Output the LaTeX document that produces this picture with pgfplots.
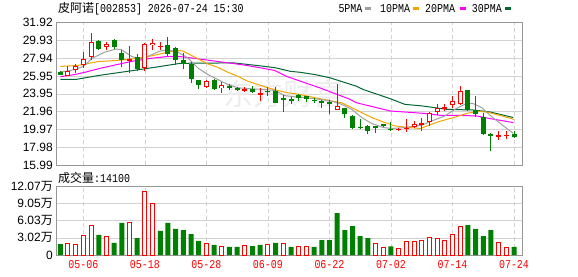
\documentclass[border=0pt]{standalone}
\usepackage{pgfplots}
\pgfplotsset{compat=1.18}
\usepackage{pgfplotstable}
\usepackage{fontspec}
\setmainfont{Liberation Sans}
\newfontfamily\cjk{Noto Sans CJK SC}
\newfontfamily\mono[FakeStretch=0.83]{Liberation Mono}

\definecolor{upred}{RGB}{255,0,0}
\definecolor{dngreen}{RGB}{0,128,0}
\definecolor{maA}{RGB}{160,160,160}
\definecolor{maB}{RGB}{245,165,0}
\definecolor{maC}{RGB}{255,0,255}
\definecolor{maD}{RGB}{0,102,51}
\definecolor{gridc}{RGB}{210,210,210}
\definecolor{framec}{RGB}{150,150,150}

% x O H L C
\pgfplotstableread{
x O H L C
1 25.98 27.0 25.95 26.54
2 26.6 27.3 26.3 27.1
3 27.2 28.65 26.85 27.8
4 28.1 30.75 27.75 29.7
6 29.2 29.78 28.86 29.5
9 27.65 29.3 26.3 27.85
11 26.85 29.6 26.55 29.5
12 29.35 30.1 28.8 29.6
13 29.2 29.7 28.78 29.25
19 24.7 25.5 24.6 25.35
21 24.55 25.3 24.0 24.9
24 24.4 24.7 24.15 24.45
26 23.95 24.6 23.15 24.0
36 22.2 25.0 22.15 22.65
44 20.0 20.15 19.85 20.05
45 20.05 21.1 19.7 20.15
46 20.3 20.95 20.1 20.55
47 20.6 21.3 19.85 20.65
48 20.85 21.95 20.4 21.85
49 21.9 22.8 21.6 22.4
50 22.35 22.85 22.05 22.4
51 22.7 23.7 22.4 23.2
52 22.8 24.8 22.75 24.3
57 19.25 19.85 18.8 19.3
58 19.3 19.8 18.9 19.35
}\redc

\pgfplotstableread{
x O H L C
0 26.43 26.5 26.0 26.1
5 29.85 29.9 28.85 28.9
7 30.0 30.05 28.95 29.2
8 28.55 28.8 26.9 27.7
10 28.0 28.4 26.55 26.75
14 29.35 30.3 28.2 28.4
15 29.1 29.2 27.2 27.75
16 27.75 28.55 26.7 27.3
17 27.3 27.45 25.2 25.55
18 25.45 25.5 24.5 24.9
20 25.5 25.55 24.4 24.45
22 24.85 25.0 24.35 24.65
23 24.65 24.7 24.25 24.35
25 24.5 24.8 24.0 24.1
27 24.3 24.7 23.7 24.15
28 24.3 24.75 22.9 22.95
29 23.45 23.8 21.95 23.25
30 23.4 23.6 22.85 23.1
31 23.85 23.9 23.15 23.5
32 23.7 23.75 23.0 23.35
33 23.3 23.5 22.95 23.2
34 23.2 23.25 22.4 22.95
35 23.0 23.3 21.7 22.95
37 22.35 22.4 21.3 21.65
38 21.45 21.6 20.05 20.15
39 20.25 21.2 20.0 20.2
40 20.35 20.5 19.45 19.85
41 20.3 20.4 19.6 20.25
42 20.55 20.6 20.3 20.35
43 20.05 20.85 19.85 20.0
53 24.35 24.4 22.05 22.1
54 22.1 23.7 21.4 21.75
55 21.4 21.85 19.4 19.5
56 19.5 19.55 17.55 19.25
59 19.45 19.8 19.05 19.1
}\greenc

\pgfplotstableread{
x v
0 1.92
5 3.5
7 2.1
8 5.6
10 2.97
13 4.2
14 5.6
15 4.55
16 4.37
17 3.67
18 2.45
20 1.75
22 1.4
23 1.4
25 1.57
26 1.75
28 2.1
30 1.4
33 1.4
34 2.62
35 2.62
36 7.34
37 4.37
38 5.07
39 3.32
40 2.97
43 1.52
53 5.24
54 4.55
55 3.32
56 4.37
59 1.4
}\volg

\pgfplotstableread{
x v
1 2.04
2 1.86
3 3.44
4 5.19
6 3.27
9 5.6
11 11.13
12 9.03
19 2.04
21 1.52
24 1.69
27 1.86
29 2.04
31 1.57
32 1.4
41 2.04
42 1.34
44 1.17
45 2.39
46 2.39
47 2.56
48 3.09
49 2.91
50 2.56
51 3.61
52 5.01
57 2.27
58 1.34
}\volr

\pgfplotsset{
  kstyle/.style={
    scale only axis, width=466pt,
    xmin=-0.56, xmax=60.04,
    axis line style={draw=framec},
    major tick length=0pt,
    xtick={3,11,19,27,35,43,51,59},
    xmajorgrids, ymajorgrids,
    x grid style={draw=gridc, dash pattern=on 4pt off 3pt},
    y grid style={draw=gridc},
    yticklabel style={font=\fontsize{12}{12}\selectfont, anchor=east, inner sep=0pt, xshift=-3pt},
  },
  wick/.style={draw=none,
    error bars/y dir=both, error bars/y explicit, error bars/error mark=none,
    error bars/error bar style={draw=#1, line width=1pt, line cap=butt}},
  body/.style 2 args={draw=none,
    error bars/y dir=both, error bars/y explicit, error bars/error mark=none,
    error bars/error bar style={draw=#1, line width=#2, line cap=butt}},
}

\begin{document}
\begin{tikzpicture}
\useasboundingbox (0pt,0pt) rectangle (578pt,276pt);

% ---------------- price panel ----------------
\begin{axis}[kstyle, at={(56pt,110.7pt)}, anchor=south west, height=143pt,
  ymin=15.99, ymax=31.92,
  ytick={15.99,17.98125,19.9725,21.96375,23.955,25.94625,27.9375,29.92875,31.92},
  yticklabels={15.99,17.98,19.97,21.96,23.95,25.95,27.94,29.93,31.92},
  xticklabels={},
]
% watermark
\node[text=black!7, font=\cjk\fontsize{30}{30}\selectfont] at (axis cs:29,23.9) {东方财富};

% moving averages
\addplot[maD, line width=1pt] coordinates {(0,25.55)(2,25.55)(5,26.0)(9.5,26.55)(13,27.0)(15.6,27.35)(22.5,27.4)(25.7,27.1)(28,26.85)(29.9,26.46)(31.2,26.35)(33.1,26.1)(35.1,25.73)(38.5,24.8)(39.4,24.43)(42.9,23.41)(44.8,22.78)(47.2,22.59)(50.3,22.22)(53.7,22.15)(55.9,21.93)(58.9,21.31)};
\addplot[maC, line width=1pt] coordinates {(0,25.85)(1.9,26.1)(3.4,26.4)(5.2,26.8)(7.3,27.2)(9.5,27.6)(11.7,27.9)(13.8,28.1)(15.6,28.1)(17.5,27.9)(19.2,27.7)(23.6,27.2)(25.7,26.9)(27.9,26.55)(29.4,25.9)(33.8,24.6)(37.7,23.33)(38.5,22.96)(42.9,22.04)(47.2,21.78)(49.4,21.56)(51.6,21.56)(54.2,21.48)(55.9,21.19)(58.9,20.75)};
\addplot[maB, line width=1pt] coordinates {(0,27.0)(2,27.1)(3,27.2)(4,27.4)(5,27.55)(7,27.65)(9,27.8)(10,27.9)(11,28.05)(12,28.2)(13,28.4)(14.5,28.67)(15.5,28.78)(16,28.7)(17.3,28.12)(19.2,27.28)(20.5,26.9)(21.8,26.35)(23.1,25.9)(24.4,25.35)(25.7,24.99)(27,24.62)(28.3,24.32)(29.6,24.07)(31.2,23.88)(33.1,23.52)(35.3,23.14)(36.6,22.96)(37.9,22.41)(39.2,21.86)(40.5,21.31)(42.2,20.75)(43.5,20.38)(45.3,20.2)(46.8,20.09)(49.2,20.85)(51.3,21.35)(53,21.8)(54.3,22.0)(55.6,21.9)(57.4,21.5)(59,21.1)};
\addplot[maA, line width=1pt] coordinates {(0,26.4)(1,26.5)(2,26.7)(3,27.0)(4.1,27.9)(5.8,28.6)(7.3,28.95)(8,28.85)(9.3,28.1)(10.5,27.85)(11.6,28.2)(12.9,28.7)(14,28.85)(15.3,28.6)(16.6,27.94)(17.9,26.83)(19.2,26.09)(20.5,25.54)(21.8,24.99)(23.1,24.62)(24.9,24.51)(26.6,24.43)(27.9,24.32)(29.2,23.75)(30.9,23.58)(33.1,23.41)(35.3,23.14)(36.6,22.78)(37.9,22.22)(39.2,21.31)(40.5,20.64)(42,20.2)(43.1,20.09)(44.8,20.2)(46.1,20.38)(47,20.45)(48.3,20.93)(50,21.48)(51.3,22.22)(52.6,22.78)(53.6,22.9)(54.8,22.41)(56.1,21.4)(57.6,20.4)(58.9,19.55)};

% wicks
\addplot[wick=upred] table[x=x, y expr={(\thisrow{H}+\thisrow{L})/2}, y error expr={(\thisrow{H}-\thisrow{L})/2}] {\redc};
\addplot[wick=dngreen] table[x=x, y expr={(\thisrow{H}+\thisrow{L})/2}, y error expr={(\thisrow{H}-\thisrow{L})/2}] {\greenc};
% bodies
\addplot[body={dngreen}{5pt}] table[x=x, y expr={(\thisrow{O}+\thisrow{C})/2}, y error expr={max(abs(\thisrow{C}-\thisrow{O})/2,0.06)}] {\greenc};
\addplot[body={upred}{5pt}] table[x=x, y expr={(\thisrow{O}+\thisrow{C})/2}, y error expr={max(abs(\thisrow{C}-\thisrow{O})/2,0.06)}] {\redc};
\addplot[body={white}{3pt}] table[x=x, y expr={(\thisrow{O}+\thisrow{C})/2}, y error expr={max(abs(\thisrow{C}-\thisrow{O})/2-0.11,0)}] {\redc};
\end{axis}

% ---------------- volume panel ----------------
\begin{axis}[kstyle, at={(56pt,21pt)}, anchor=south west, height=69pt,
  ymin=0, ymax=12.07,
  ytick={0,3.02,6.03,9.05,12.07},
  yticklabels={0,{3.02{\cjk 万}},{6.03{\cjk 万}},{9.05{\cjk 万}},{12.07{\cjk 万}}},
  xticklabels={05-06,05-18,05-28,06-09,06-22,07-02,07-14,07-24},
  xticklabel style={font=\mono\fontsize{12}{12}\selectfont, text=upred, anchor=north, inner sep=0pt, yshift=-5.7pt},
]
\addplot[ybar, bar width=5pt, bar shift=0pt, fill=dngreen, draw=none] table[x=x, y=v] {\volg};
\addplot[ybar, bar width=4pt, bar shift=0pt, fill=white, draw=upred, line width=1pt] table[x=x, y=v] {\volr};
\end{axis}

% ---------------- texts ----------------
\node[anchor=base west, inner sep=0pt] at (58pt,263.5pt) {{\cjk\fontsize{12}{12}\selectfont 皮阿诺}{\mono\fontsize{12}{12}\selectfont [002853] 2026-07-24 15:30}};
\node[anchor=base west, inner sep=0pt] at (58pt,93.5pt) {{\cjk\fontsize{12}{12}\selectfont 成交量}{\mono\fontsize{12}{12}\selectfont :14100}};

\begin{scope}[font=\mono\fontsize{12}{12}\selectfont]
\node[anchor=base west, inner sep=0pt] at (338.3pt,263.5pt) {5PMA};
\fill[maA] (365pt,266pt) rectangle (371pt,268.7pt);
\node[anchor=base west, inner sep=0pt] at (380pt,263.5pt) {10PMA};
\fill[maB] (413.3pt,266pt) rectangle (419.3pt,268.7pt);
\node[anchor=base west, inner sep=0pt] at (425pt,263.5pt) {20PMA};
\fill[maC] (460pt,266pt) rectangle (465.7pt,268.7pt);
\node[anchor=base west, inner sep=0pt] at (471.7pt,263.5pt) {30PMA};
\fill[maD] (505pt,266pt) rectangle (510.7pt,268.7pt);
\end{scope}
\end{tikzpicture}
\end{document}
